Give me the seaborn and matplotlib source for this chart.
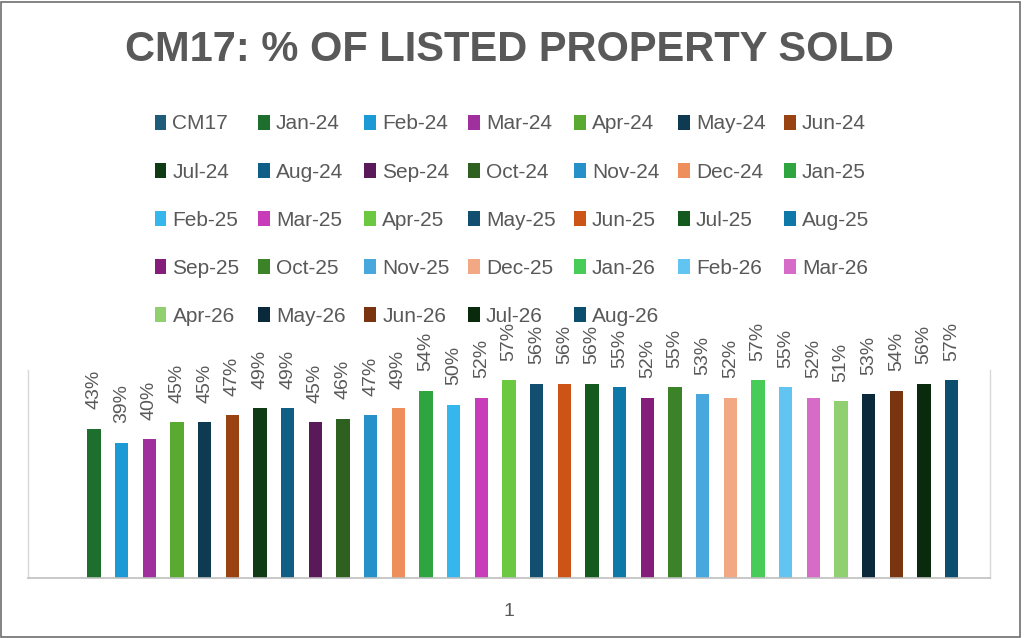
import pandas as pd
import matplotlib.pyplot as plt
import matplotlib.patches as mpatches
import seaborn as sns

# series names (first one, CM17, has no value in the chart)
months = ["CM17",
          "Jan-24", "Feb-24", "Mar-24", "Apr-24", "May-24", "Jun-24",
          "Jul-24", "Aug-24", "Sep-24", "Oct-24", "Nov-24", "Dec-24",
          "Jan-25", "Feb-25", "Mar-25", "Apr-25", "May-25", "Jun-25",
          "Jul-25", "Aug-25", "Sep-25", "Oct-25", "Nov-25", "Dec-25",
          "Jan-26", "Feb-26", "Mar-26", "Apr-26", "May-26", "Jun-26",
          "Jul-26", "Aug-26"]

pct_sold = [0.00,
            0.43, 0.39, 0.40, 0.45, 0.45, 0.47,
            0.49, 0.49, 0.45, 0.46, 0.47, 0.49,
            0.54, 0.50, 0.52, 0.57, 0.56, 0.56,
            0.56, 0.55, 0.52, 0.55, 0.53, 0.52,
            0.57, 0.55, 0.52, 0.51, 0.53, 0.54,
            0.56, 0.57]

colors = ["#1F5C7A",
          "#1E6E2E", "#1B9AD6", "#A0309E", "#5AAA32", "#0E3A52", "#9A4312",
          "#0F3A14", "#0E5E86", "#5A1A5A", "#2E6020", "#2690C8", "#EE8E5A",
          "#2EA53E", "#35B7EE", "#C83CBA", "#6CC840", "#124E70", "#CC5416",
          "#145A1E", "#0E78A8", "#841E7A", "#3C8228", "#48A8DE", "#F2A882",
          "#48CC58", "#62C4F0", "#D66CC8", "#90D070", "#0A2A3C", "#7A3410",
          "#0A2A0E", "#0C4E6E"]

category = "1"

df = pd.DataFrame({"cat": category, "month": months, "value": pct_sold})

sns.set_style("white")
plt.rcParams["font.family"] = ["Liberation Sans", "DejaVu Sans"]

grey = "#595959"

fig = plt.figure(figsize=(10.24, 6.38), dpi=100)
ax = fig.add_axes([28 / 1024, 60 / 638, 962 / 1024, 208 / 638])

sns.barplot(data=df, x="cat", y="value", hue="month", hue_order=months,
            palette=colors, saturation=1, width=0.949, gap=0.51,
            errorbar=None, linewidth=0, ax=ax)

ax.set_xlim(-0.5, 0.5)
ax.set_ylim(0, 0.6)

# data labels, rotated
for cont, v in zip(ax.containers, pct_sold):
    lbl = [f"{v:.0%}" if v > 0 else ""]
    ax.bar_label(cont, labels=lbl, rotation=90, padding=14,
                 fontsize=14, color=grey)

ax.set_xlabel("")
ax.set_ylabel("")
ax.set_yticks([])
ax.tick_params(axis="x", length=0, pad=18, labelsize=14, labelcolor=grey)

for s in ["left", "right"]:
    ax.spines[s].set_color("#D9D9D9")
    ax.spines[s].set_linewidth(1)
ax.spines["top"].set_visible(False)
ax.spines["bottom"].set_color("#BFBFBF")
ax.spines["bottom"].set_linewidth(1.2)

# legend filled row by row, 7 per row
handles, labels = ax.get_legend_handles_labels()
ax.get_legend().remove()
ncol = 7
order = [i for c in range(ncol) for i in range(c, len(labels), ncol)]
fig.legend([handles[i] for i in order], [labels[i] for i in order],
           loc="upper center", bbox_to_anchor=(512 / 1024, 1 - 104 / 638),
           ncol=ncol, frameon=False, fontsize=15, labelcolor=grey,
           handlelength=0.55, handleheight=0.75, handletextpad=0.3,
           columnspacing=0.9, labelspacing=1.40, borderpad=0)

fig.text(509 / 1024, 1 - 50 / 638, "CM17: % OF LISTED PROPERTY SOLD",
         ha="center", va="center", fontsize=30, fontweight="bold",
         color=grey)

# chart frame
fig.patches.append(mpatches.Rectangle((0.001, 0.002), 0.995, 0.995,
                                      transform=fig.transFigure, fill=False,
                                      edgecolor="#6E6E6E", linewidth=1.2))

fig.savefig("out.png", dpi=100)
